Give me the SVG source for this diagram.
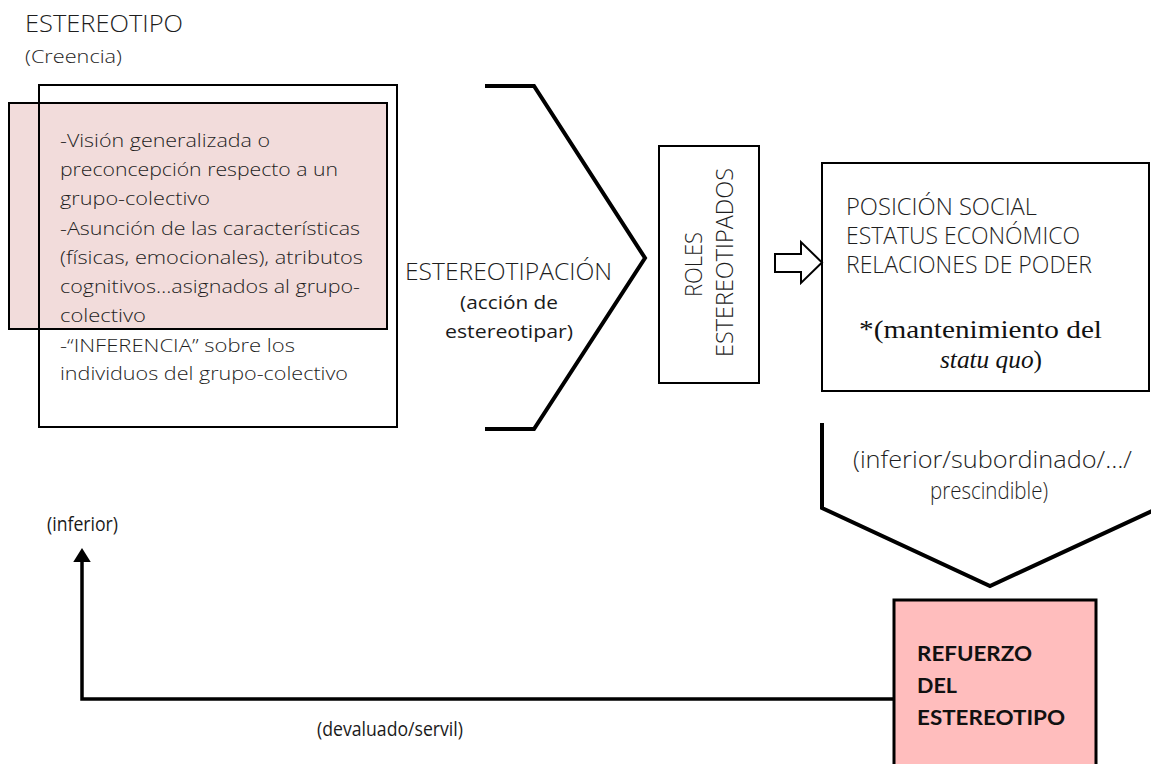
<svg xmlns="http://www.w3.org/2000/svg" width="1151" height="764" viewBox="0 0 1151 764">
<defs>
<style>
.t{font-family:"Open Sans",Lato,"Liberation Sans",sans-serif;font-weight:300;fill:#1e1e1e}
.r{font-family:"Open Sans",Lato,"Liberation Sans",sans-serif;font-weight:400;fill:#1a1a1a}
.b{font-family:Lato,"Open Sans","Liberation Sans",sans-serif;font-weight:700;fill:#111}
.s{font-family:"Liberation Serif","Times New Roman",serif;fill:#111}
.box{fill:#fff;stroke:#000;stroke-width:2}
.ln{fill:none;stroke:#000;stroke-width:4;stroke-linejoin:miter}
</style>
<marker id="ah" markerWidth="4" markerHeight="5" refX="0" refY="2.5" orient="auto" markerUnits="strokeWidth" viewBox="0 0 4 5">
<path d="M0,0 L4,2.5 L0,5 Z" fill="#000"/>
</marker>
</defs>
<rect width="1151" height="764" fill="#fff"/>

<g id="estereotipo">
<text class="t" x="25" y="32" font-size="23" textLength="158" lengthAdjust="spacingAndGlyphs">ESTEREOTIPO</text>
<text class="t" x="25" y="63" font-size="18.5" textLength="97" lengthAdjust="spacingAndGlyphs">(Creencia)</text>
<rect x="9" y="103" width="378" height="226" fill="#F2DCDB" stroke="#000" stroke-width="2"/>
<rect x="39" y="85" width="358" height="342" fill="none" stroke="#000" stroke-width="2"/>
<g class="t" font-size="18.5">
<text x="60" y="147" textLength="210" lengthAdjust="spacingAndGlyphs">-Visión generalizada o</text>
<text x="60" y="176" textLength="278" lengthAdjust="spacingAndGlyphs">preconcepción respecto a un</text>
<text x="60" y="205" textLength="150" lengthAdjust="spacingAndGlyphs">grupo-colectivo</text>
<text x="60" y="235" textLength="300" lengthAdjust="spacingAndGlyphs">-Asunción de las características</text>
<text x="60" y="264" textLength="303" lengthAdjust="spacingAndGlyphs">(físicas, emocionales), atributos</text>
<text x="60" y="293" textLength="300" lengthAdjust="spacingAndGlyphs">cognitivos…asignados al grupo-</text>
<text x="60" y="322" textLength="86" lengthAdjust="spacingAndGlyphs">colectivo</text>
<text x="60" y="352" textLength="235" lengthAdjust="spacingAndGlyphs">-“INFERENCIA” sobre los</text>
<text x="60" y="380" textLength="288" lengthAdjust="spacingAndGlyphs">individuos del grupo-colectivo</text>
</g>
</g>

<g id="estereotipacion">
<path class="ln" d="M485,86 L534,86 L645,258 L534,429 L485,429"/>
<text class="t" x="405" y="280" font-size="23" textLength="207" lengthAdjust="spacingAndGlyphs">ESTEREOTIPACIÓN</text>
<text class="r" x="460" y="309" font-size="17.5" textLength="98" lengthAdjust="spacingAndGlyphs">(acción de</text>
<text class="r" x="445" y="338" font-size="17.5" textLength="128" lengthAdjust="spacingAndGlyphs">estereotipar)</text>
</g>

<g id="roles">
<rect class="box" x="659" y="146" width="100" height="237"/>
<text class="t" font-size="23" text-anchor="middle" transform="translate(702,264.5) rotate(-90)" textLength="65" lengthAdjust="spacingAndGlyphs">ROLES</text>
<text class="t" font-size="23" text-anchor="middle" transform="translate(733,262.5) rotate(-90)" textLength="189" lengthAdjust="spacingAndGlyphs">ESTEREOTIPADOS</text>
</g>

<g id="posicion">
<rect class="box" x="822" y="163" width="327" height="228"/>
<text class="t" x="846" y="215" font-size="23" textLength="191" lengthAdjust="spacingAndGlyphs">POSICIÓN SOCIAL</text>
<text class="t" x="846" y="244" font-size="23" textLength="234" lengthAdjust="spacingAndGlyphs">ESTATUS ECONÓMICO</text>
<text class="t" x="846" y="273" font-size="23" textLength="246" lengthAdjust="spacingAndGlyphs">RELACIONES DE PODER</text>
<text class="s" x="859" y="338" font-size="25.5" textLength="243" lengthAdjust="spacingAndGlyphs">*(mantenimiento del</text>
<text class="s" x="940" y="368" font-size="25.5" textLength="102" lengthAdjust="spacingAndGlyphs"><tspan font-style="italic">statu quo</tspan>)</text>
</g>

<g id="subordinacion">
<path class="ln" d="M822,423 L822,508 L990,586 L1165,505"/>
<text class="t" x="853" y="468" font-size="24" textLength="279" lengthAdjust="spacingAndGlyphs">(inferior/subordinado/…/</text>
<text class="t" x="930" y="499" font-size="24" textLength="118" lengthAdjust="spacingAndGlyphs">prescindible)</text>
</g>

<g id="refuerzo">
<rect x="894" y="600" width="202" height="190" fill="#FFBDBD" stroke="#000" stroke-width="3"/>
<text class="b" x="917" y="661" font-size="20" textLength="115" lengthAdjust="spacingAndGlyphs">REFUERZO</text>
<text class="b" x="917" y="693" font-size="20" textLength="40" lengthAdjust="spacingAndGlyphs">DEL</text>
<text class="b" x="917" y="725" font-size="20" textLength="148" lengthAdjust="spacingAndGlyphs">ESTEREOTIPO</text>
</g>

<g id="connectors">
<polygon points="775,254 801,254 801,242 822,262.5 801,283 801,272 775,272" fill="#fff" stroke="#000" stroke-width="2" stroke-linejoin="miter"/>
<path d="M894,699 L82,699 L82,562" fill="none" stroke="#000" stroke-width="3.5" marker-end="url(#ah)"/>
</g>

<g id="labels">
<text class="r" x="47" y="531" font-size="19.5" textLength="71" lengthAdjust="spacingAndGlyphs">(inferior)</text>
<text class="r" x="317" y="736" font-size="19.5" textLength="146" lengthAdjust="spacingAndGlyphs">(devaluado/servil)</text>
</g>
</svg>
